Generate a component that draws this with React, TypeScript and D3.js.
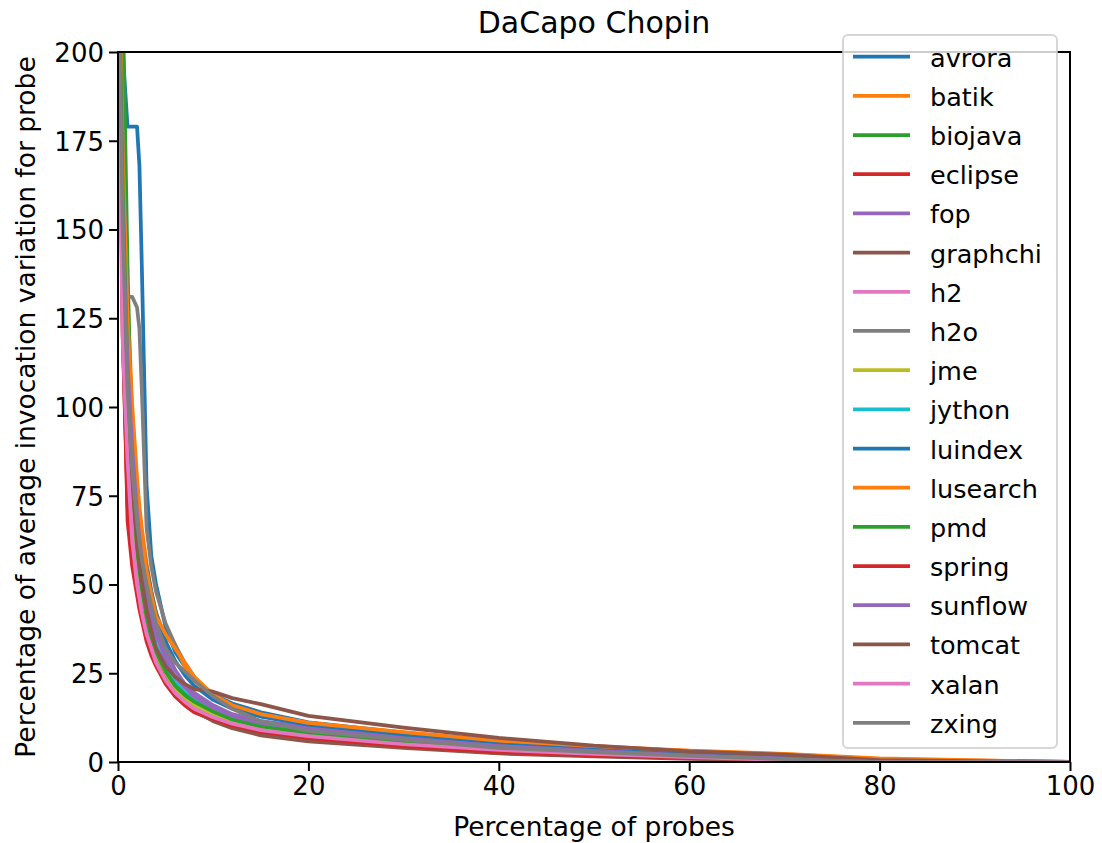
import * as d3 from "d3";
import React from "react";

// x grid shared by every benchmark (percentage of probes)
const probePct = [0, 0.25, 0.5, 1, 1.5, 2, 2.25, 2.5, 3, 3.5, 4, 5, 6, 7, 8, 10, 12, 15, 20, 30, 40, 50, 60, 70, 80, 100];

// percentage of average invocation variation
const avrora = [300, 230, 200, 179, 179, 179, 168, 140, 78, 58, 50, 38, 31, 27, 23.5, 19, 16.5, 14, 11.2, 8.3, 5.8, 4.2, 2.8, 1.6, 0.3, 0];
const batik = [260, 200, 165, 130, 100, 80, 72, 66, 56, 48, 42, 35, 33, 27, 23, 18.5, 15.5, 13.2, 11, 8.2, 5.8, 4.3, 3.1, 2.2, 0.8, 0];
const biojava = [350, 280, 215, 140, 85, 62, 57, 51, 42, 35, 31, 25, 21, 18.5, 16.5, 13.8, 11.8, 9.8, 8, 5.5, 3.8, 2.6, 1.6, 0.8, 0, 0];
const eclipse = [320, 205, 130, 68, 55, 47, 43, 40, 34, 30, 27, 22, 18.5, 16, 14, 11.8, 10, 8.3, 6.5, 4.3, 2.6, 1.8, 1.1, 0.5, 0, 0];
const fop = [240, 190, 160, 120, 95, 75, 66, 60, 50, 43, 38, 31, 26, 22, 19.5, 16, 13.5, 11.5, 9.8, 7, 4.8, 3.3, 2.1, 1.1, 0.2, 0];
const graphchi = [300, 190, 120, 75, 60, 50, 46, 43, 37, 32, 28, 23, 19, 16.5, 14.5, 11.5, 9.5, 7.5, 5.8, 4, 2.4, 1.6, 0.9, 0.4, 0, 0];
const h2 = [230, 170, 125, 90, 65, 52, 48, 44, 38, 33, 29, 24, 20, 17.5, 15.5, 13, 11, 9.2, 7.5, 5.2, 3.6, 2.5, 1.5, 0.7, 0, 0];
const h2o = [260, 200, 172, 131, 131, 128, 122, 105, 66, 55, 48, 39, 33, 28, 24, 18.5, 15.5, 13, 10.5, 7.5, 5.2, 3.6, 2.3, 1.2, 0.1, 0];
const jme = [240, 190, 150, 105, 78, 60, 54, 49, 41, 35, 30, 24, 20, 17.5, 16, 13.5, 11.5, 9.8, 8, 5.5, 3.7, 2.5, 1.5, 0.7, 0, 0];
const jython = [250, 195, 155, 110, 82, 63, 57, 52, 44, 38, 33, 27, 22.5, 19.5, 17.5, 14.5, 12.3, 10.2, 8.4, 5.8, 4, 2.7, 1.7, 0.8, 0, 0];
const luindex = [270, 200, 160, 115, 90, 75, 68, 63, 55, 48, 42, 34, 28.5, 24.5, 21.5, 17.5, 15, 12.8, 10.5, 7.8, 5.5, 4, 2.6, 1.4, 0.2, 0];
const lusearch = [280, 210, 170, 125, 98, 78, 70, 64, 54, 47, 41, 36, 32, 28, 24, 19, 16, 13.5, 11, 8.4, 6, 4.5, 3.2, 2.3, 1, 0];
const pmd = [260, 200, 160, 110, 80, 60, 54, 49, 41, 35, 31, 25.5, 21.5, 19, 17, 14.2, 12, 10, 8.2, 5.6, 3.8, 2.6, 1.6, 0.8, 0, 0];
const spring = [280, 180, 120, 72, 58, 49, 45, 42, 36, 31, 28, 23, 19, 16.5, 14.5, 12.2, 10.3, 8.6, 6.8, 4.5, 2.8, 1.9, 1.2, 0.6, 0, 0];
const sunflow = [230, 185, 150, 112, 88, 70, 63, 57, 48, 41, 36, 29, 24, 21, 18.5, 15.3, 13, 11, 9.3, 6.6, 4.5, 3.1, 1.9, 1, 0.1, 0];
const tomcat = [260, 190, 140, 100, 78, 62, 56, 51, 43, 37, 32, 27, 24, 22, 20.5, 19.8, 18, 16.3, 13, 9.7, 6.8, 4.6, 3, 2.1, 0.5, 0];
const xalan = [210, 160, 118, 85, 62, 50, 46, 42, 36, 32, 28, 23, 19.5, 17, 15, 12.6, 10.8, 9, 7.3, 5, 3.4, 2.3, 1.4, 0.6, 0, 0];
const zxing = [250, 190, 150, 105, 82, 68, 62, 57, 50, 44, 39, 32, 28, 25.5, 23, 18.5, 15, 11.5, 8.8, 6.2, 4, 2.8, 1.7, 0.8, 0, 0];

const benchNames = ["avrora", "batik", "biojava", "eclipse", "fop", "graphchi", "h2", "h2o", "jme", "jython", "luindex", "lusearch", "pmd", "spring", "sunflow", "tomcat", "xalan", "zxing"];
const benchValues = [avrora, batik, biojava, eclipse, fop, graphchi, h2, h2o, jme, jython, luindex, lusearch, pmd, spring, sunflow, tomcat, xalan, zxing];

const xTicks = [0, 20, 40, 60, 80, 100];
const yTicks = [0, 25, 50, 75, 100, 125, 150, 175, 200];

const tab10 = ["#1f77b4", "#ff7f0e", "#2ca02c", "#d62728", "#9467bd", "#8c564b", "#e377c2", "#7f7f7f", "#bcbd22", "#17becf"];

const FONT = "'DejaVu Sans', sans-serif";

const App = () => {
  const ref = React.useRef<SVGSVGElement>(null);

  React.useEffect(() => {
    const W = 1102,
      H = 843;
    const margin = { top: 52, right: 32, bottom: 81, left: 118 };
    const width = W - margin.left - margin.right,
      height = H - margin.top - margin.bottom;

    const svg = d3.select(ref.current).attr("width", W).attr("height", H);
    svg.selectAll("*").remove();

    const x = d3.scaleLinear().domain([0, 100]).range([0, width]);
    const y = d3.scaleLinear().domain([0, 200]).range([height, 0]);

    const g = svg
      .append("g")
      .attr("transform", "translate(" + margin.left + "," + margin.top + ")");

    svg
      .append("defs")
      .append("clipPath")
      .attr("id", "plot-clip")
      .append("rect")
      .attr("width", width)
      .attr("height", height);

    const line = d3
      .line<number>()
      .x((d, i) => x(probePct[i]))
      .y((d) => y(d));

    g.append("g")
      .attr("clip-path", "url(#plot-clip)")
      .selectAll("path")
      .data(benchValues)
      .enter()
      .append("path")
      .attr("d", (d) => line(d))
      .attr("fill", "none")
      .attr("stroke", (d, i) => tab10[i % 10])
      .attr("stroke-width", 3.75)
      .attr("stroke-linejoin", "round")
      .attr("stroke-linecap", "square");

    // axes
    const xAxis = d3
      .axisBottom(x)
      .tickValues(xTicks)
      .tickSize(9)
      .tickSizeOuter(0)
      .tickPadding(6);
    const yAxis = d3
      .axisLeft(y)
      .tickValues(yTicks)
      .tickSize(9)
      .tickSizeOuter(0)
      .tickPadding(5);

    const gx = g
      .append("g")
      .attr("transform", "translate(0," + height + ")")
      .call(xAxis);
    const gy = g.append("g").call(yAxis);
    [gx, gy].forEach((ax) => {
      ax.select(".domain").remove();
      ax.selectAll("line").attr("stroke", "#000").attr("stroke-width", 2);
      ax.selectAll("text")
        .attr("fill", "#000")
        .style("font-family", FONT)
        .style("font-size", "26px");
    });
    gy.selectAll("text").attr("dy", "0.36em");

    // spines
    g.append("rect")
      .attr("width", width)
      .attr("height", height)
      .attr("fill", "none")
      .attr("stroke", "#000")
      .attr("stroke-width", 2);

    // title + labels
    svg
      .append("text")
      .attr("x", margin.left + width / 2)
      .attr("y", 33)
      .attr("text-anchor", "middle")
      .style("font-family", FONT)
      .style("font-size", "30px")
      .text("DaCapo Chopin");

    svg
      .append("text")
      .attr("x", margin.left + width / 2)
      .attr("y", 836)
      .attr("text-anchor", "middle")
      .style("font-family", FONT)
      .style("font-size", "26.5px")
      .text("Percentage of probes");

    svg
      .append("text")
      .attr("transform", "translate(35," + (margin.top + height / 2) + ") rotate(-90)")
      .attr("text-anchor", "middle")
      .style("font-family", FONT)
      .style("font-size", "26.5px")
      .text("Percentage of average invocation variation for probe");

    // legend
    const legend = svg.append("g");
    legend
      .append("rect")
      .attr("x", 843)
      .attr("y", 35)
      .attr("width", 214)
      .attr("height", 713)
      .attr("rx", 5)
      .attr("fill", "#fff")
      .attr("fill-opacity", 0.8)
      .attr("stroke", "#cccccc")
      .attr("stroke-opacity", 0.8)
      .attr("stroke-width", 2);

    const rowY = (i: number) => 56.7 + i * 39.18;
    const items = legend
      .selectAll("g.item")
      .data(benchNames)
      .enter()
      .append("g")
      .attr("class", "item");
    items
      .append("line")
      .attr("x1", 853)
      .attr("x2", 910)
      .attr("y1", (d, i) => rowY(i))
      .attr("y2", (d, i) => rowY(i))
      .attr("stroke", (d, i) => tab10[i % 10])
      .attr("stroke-width", 3.75);
    items
      .append("text")
      .attr("x", 930)
      .attr("y", (d, i) => rowY(i) + 10)
      .style("font-family", FONT)
      .style("font-size", "25.5px")
      .text((d) => d);
  }, []);

  return (
    <svg ref={ref} style={{ position: "absolute", left: 0, top: 0, background: "#fff" }}></svg>
  );
};

export default App;
